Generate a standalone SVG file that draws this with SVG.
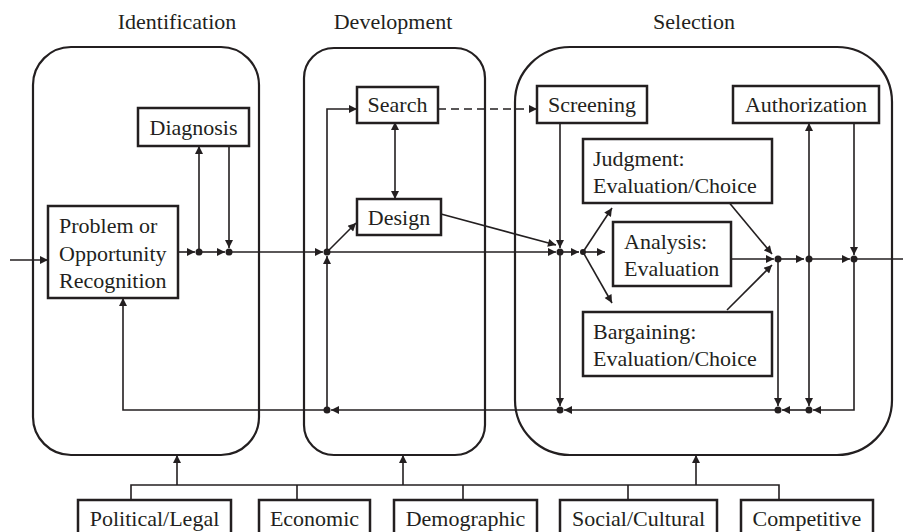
<svg xmlns="http://www.w3.org/2000/svg" width="903" height="532" viewBox="0 0 903 532">
<style>
text{font-family:"Liberation Serif","Times New Roman",serif;fill:#231f20}
.t{font-size:22px;text-anchor:middle}
.b{font-size:22px}
.m{text-anchor:middle}
.box{fill:#fff;stroke:#231f20;stroke-width:2.5}
.cont{fill:none;stroke:#231f20;stroke-width:2.2}
.c path{fill:none;stroke:#231f20;stroke-width:1.6}
.c .ar{marker-end:url(#a)}
.d{fill:#231f20}
</style>
<defs>
<marker id="a" viewBox="0 0 10 10" refX="10" refY="5" markerWidth="9" markerHeight="8" markerUnits="userSpaceOnUse" orient="auto-start-reverse"><path d="M0,0 L10,5 L0,10 z" fill="#231f20"/></marker>
</defs>
<g id="titles">
<text class="t" x="177" y="29">Identification</text>
<text class="t" x="393" y="29">Development</text>
<text class="t" x="694" y="29">Selection</text>
</g>
<g id="identification"><rect class="cont" x="33" y="47" width="226" height="408" rx="38"/></g>
<g id="development"><rect class="cont" x="304" y="48" width="181" height="407" rx="30"/></g>
<g id="selection"><rect class="cont" x="515" y="47" width="377" height="408" rx="55"/></g>
<g class="c" id="connectors">
<path class="ar" d="M10,260 H48"/>
<path class="ar" d="M178,252 H195"/>
<path class="ar" d="M199,252 H225"/>
<path class="ar" d="M199,252 V146"/>
<path class="ar" d="M229,146 V248"/>
<path class="ar" d="M229,252 H323"/>
<path class="ar" d="M327,252 L356,223"/>
<path class="ar" d="M327,252 V109 H357"/>
<path class="ar" style="marker-start:url(#a)" d="M395,122 V199"/>
<path class="ar" stroke-dasharray="8,5" d="M438,109 H537"/>
<path class="ar" d="M441,214 L556,245"/>
<path class="ar" d="M327,252 H556"/>
<path class="ar" d="M560,123 V248"/>
<path class="ar" d="M560,252 V406"/>
<path class="ar" d="M560,252 H579"/>
<path class="ar" d="M583,252 L612,208"/>
<path class="ar" d="M583,252 H605"/>
<path class="ar" d="M583,252 L612,303"/>
<path class="ar" d="M731,259 H774"/>
<path class="ar" d="M727,200 L772,254"/>
<path class="ar" d="M727,310 L772,265"/>
<path class="ar" d="M778,259 H804"/>
<path class="ar" d="M809,259 H850"/>
<path d="M854,259 H903"/>
<path class="ar" d="M809,259 V123"/>
<path class="ar" d="M854,123 V255"/>
<path class="ar" d="M778,259 V406"/>
<path class="ar" d="M809,259 V406"/>
<path class="ar" d="M854,259 V410 H813"/>
<path class="ar" d="M809,410 H782"/>
<path class="ar" d="M778,410 H564"/>
<path class="ar" d="M560,410 H331"/>
<path class="ar" d="M327,410 V256"/>
<path class="ar" d="M327,410 H123 V298"/>
<path d="M131,500 V485 H779 V500 M297,485 V500 M463,485 V500 M628,485 V500"/>
<path class="ar" d="M177,485 V455"/>
<path class="ar" d="M403,485 V455"/>
<path class="ar" d="M696,485 V455"/>
</g>
<g id="dots">
<circle class="d" cx="199" cy="252" r="3.5"/>
<circle class="d" cx="229" cy="252" r="3.5"/>
<circle class="d" cx="327" cy="252" r="3.5"/>
<circle class="d" cx="327" cy="410" r="3.5"/>
<circle class="d" cx="560" cy="252" r="3.5"/>
<circle class="d" cx="583" cy="252" r="3"/>
<circle class="d" cx="560" cy="410" r="3.5"/>
<circle class="d" cx="778" cy="259" r="3.5"/>
<circle class="d" cx="809" cy="259" r="3.5"/>
<circle class="d" cx="854" cy="259" r="3.5"/>
<circle class="d" cx="778" cy="410" r="3.5"/>
<circle class="d" cx="809" cy="410" r="3.5"/>
</g>
<g id="problem"><rect class="box" x="48" y="206" width="130" height="92"/>
<text class="b" x="59" y="233">Problem or</text><text class="b" x="59" y="261">Opportunity</text><text class="b" x="59" y="288">Recognition</text></g>
<g id="diagnosis"><rect class="box" x="138" y="108" width="111" height="38"/><text class="b m" x="193.5" y="135">Diagnosis</text></g>
<g id="search"><rect class="box" x="357" y="87" width="81" height="36"/><text class="b m" x="397.5" y="112">Search</text></g>
<g id="design"><rect class="box" x="357" y="199" width="84" height="36"/><text class="b m" x="399" y="225">Design</text></g>
<g id="screening"><rect class="box" x="537" y="86" width="110" height="37"/><text class="b m" x="592" y="112">Screening</text></g>
<g id="authorization"><rect class="box" x="733" y="86" width="146" height="37"/><text class="b m" x="806" y="112">Authorization</text></g>
<g id="judgment"><rect class="box" x="583" y="139" width="189" height="64"/>
<text class="b" x="593" y="166">Judgment:</text><text class="b" x="593" y="193">Evaluation/Choice</text></g>
<g id="analysis"><rect class="box" x="613" y="222" width="118" height="64"/>
<text class="b" x="624" y="249">Analysis:</text><text class="b" x="624" y="276">Evaluation</text></g>
<g id="bargaining"><rect class="box" x="583" y="312" width="189" height="64"/>
<text class="b" x="593" y="339">Bargaining:</text><text class="b" x="593" y="366">Evaluation/Choice</text></g>
<g id="political"><rect class="box" x="78" y="500" width="153" height="45"/><text class="b m" x="154.5" y="526">Political/Legal</text></g>
<g id="economic"><rect class="box" x="259" y="500" width="111" height="45"/><text class="b m" x="314.5" y="526">Economic</text></g>
<g id="demographic"><rect class="box" x="394" y="500" width="143" height="45"/><text class="b m" x="465.5" y="526">Demographic</text></g>
<g id="social"><rect class="box" x="560" y="500" width="157" height="45"/><text class="b m" x="638.5" y="526">Social/Cultural</text></g>
<g id="competitive"><rect class="box" x="741" y="500" width="132" height="45"/><text class="b m" x="807" y="526">Competitive</text></g>
</svg>
